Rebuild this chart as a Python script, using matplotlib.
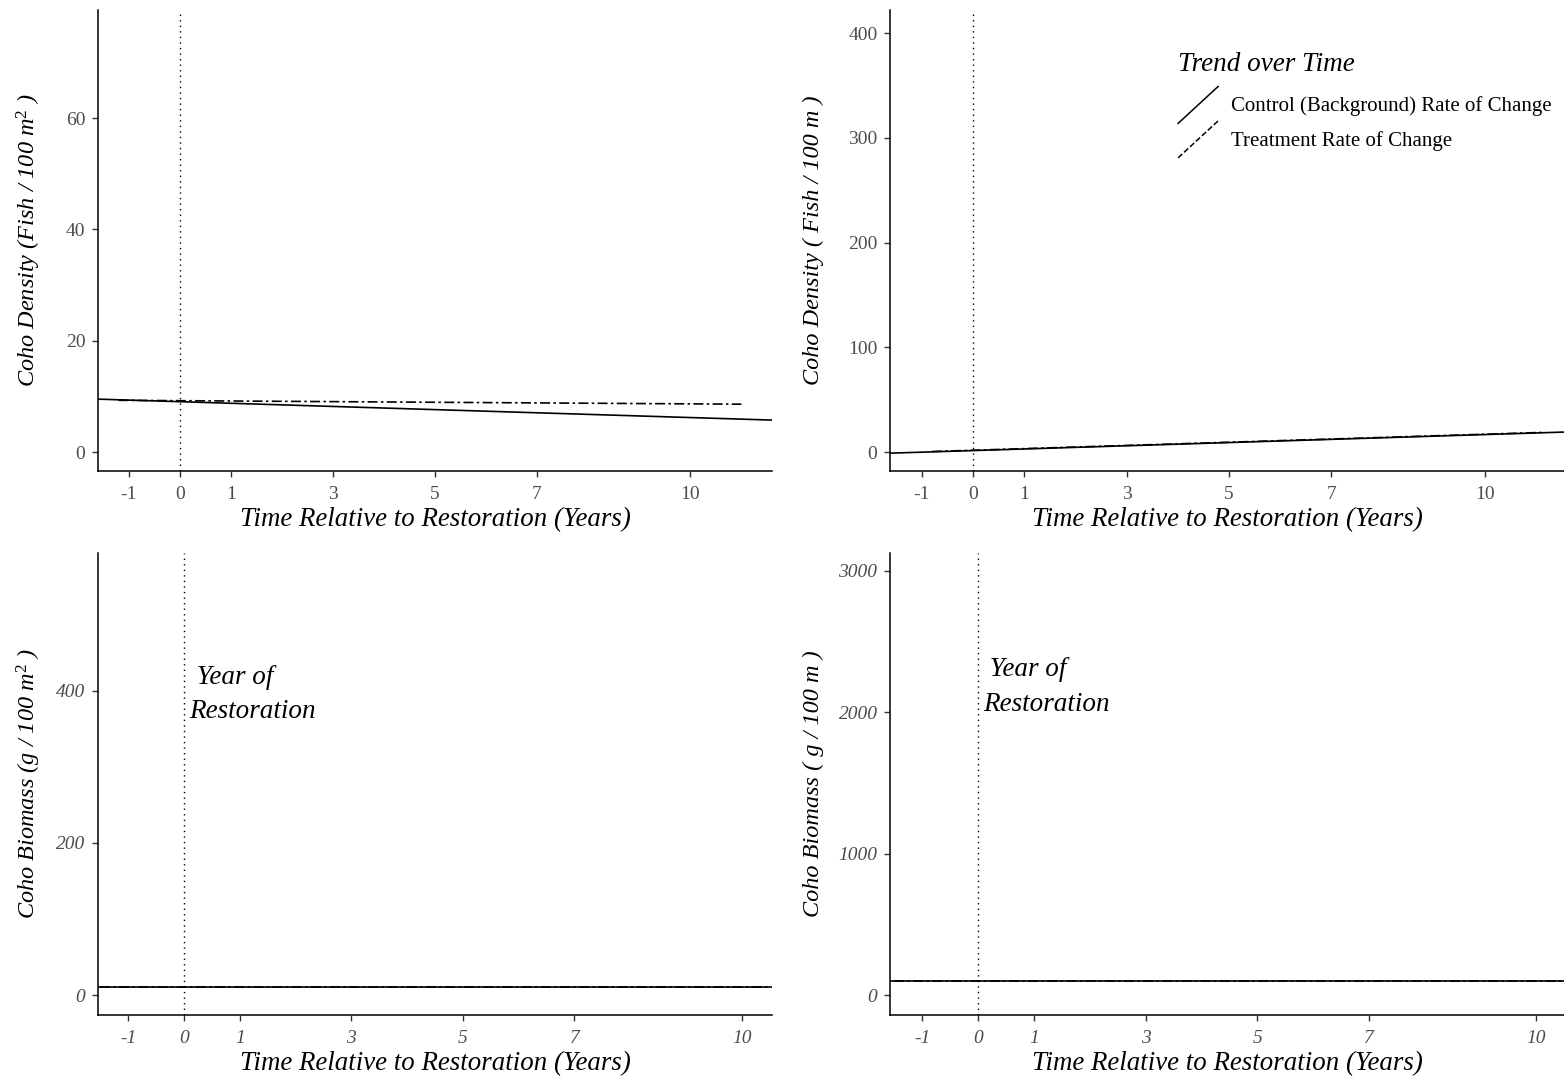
import matplotlib
matplotlib.use("Agg")
import matplotlib.pyplot as plt
from matplotlib.lines import Line2D
from matplotlib.legend_handler import HandlerBase

plt.rcParams['font.family'] = ['Liberation Serif', 'DejaVu Serif']
plt.rcParams['mathtext.fontset'] = 'custom'
plt.rcParams['mathtext.rm'] = 'Liberation Serif'
plt.rcParams['mathtext.it'] = 'Liberation Serif:italic'

# x ticks shared by all panels
year_ticks = [-1, 0, 1, 3, 5, 7, 10]

# density per area (fish / 100 m^2)
dens_area_ctrl = (9.05, -0.285)          # intercept, slope
dens_area_trt_x = [-1.2, 11.0]
dens_area_trt_y = [9.3, 8.6]

# density per length (fish / 100 m)
dens_len_ctrl = (1.5, 1.53)
dens_len_trt_x = [-0.8, 11.1]
dens_len_trt_y = [0.6, 18.8]

# biomass per area (g / 100 m^2)
bio_area_ctrl = (10.5, 0.0)
bio_area_trt_x = [-1.5, 10.5]
bio_area_trt_y = [10.5, 10.5]

# biomass per length (g / 100 m)
bio_len_ctrl = (99.0, 0.0)
bio_len_trt_x = [-1.5, 10.5]
bio_len_trt_y = [99.0, 99.0]

TREAT_LS = (0, (6, 2, 1.5, 2))


class DiagonalHandler(HandlerBase):
    # legend key drawn as a rising diagonal, like an abline key
    def create_artists(self, legend, orig_handle, xdescent, ydescent,
                       width, height, fontsize, trans):
        ln = Line2D([-xdescent, -xdescent + width],
                    [-ydescent, -ydescent + height],
                    color=orig_handle.get_color(),
                    linestyle=orig_handle.get_linestyle(),
                    linewidth=orig_handle.get_linewidth(),
                    transform=trans)
        return [ln]


fig = plt.figure(figsize=(15.64, 10.76), dpi=100)

W, H = 1564, 1076
def px_axes(l, t, r, b):
    return fig.add_axes([l / W, 1 - b / H, (r - l) / W, (b - t) / H])

ax1 = px_axes(98, 10, 772, 471)
ax2 = px_axes(890, 10, 1564, 471)
ax3 = px_axes(98, 553, 772, 1015)
ax4 = px_axes(890, 553, 1564, 1015)

panels = [
    (ax1, dens_area_ctrl, dens_area_trt_x, dens_area_trt_y, (-1.6, 11.6), (-3.4, 79.4),
     [0, 20, 40, 60], 'Coho Density (Fish / 100 m$^{2}$ )', False, -0.082),
    (ax2, dens_len_ctrl, dens_len_trt_x, dens_len_trt_y, (-1.62, 11.54), (-18, 422),
     [0, 100, 200, 300, 400], 'Coho Density ( Fish / 100 m )', False, -0.098),
    (ax3, bio_area_ctrl, bio_area_trt_x, bio_area_trt_y, (-1.54, 10.54), (-26, 581),
     [0, 200, 400], 'Coho Biomass (g / 100 m$^{2}$ )', True, -0.082),
    (ax4, bio_len_ctrl, bio_len_trt_x, bio_len_trt_y, (-1.58, 10.5), (-141, 3127),
     [0, 1000, 2000, 3000], 'Coho Biomass ( g / 100 m )', True, -0.098),
]

for ax, ctrl, tx, ty, xl, yl, yt, ylab, ital, ylab_x in panels:
    ax.set_xlim(*xl)
    ax.set_ylim(*yl)
    ax.axline((0, ctrl[0]), slope=ctrl[1], color='black', lw=1.2)
    ax.plot(tx, ty, color='black', lw=1.2, linestyle=TREAT_LS)
    ax.axvline(0, color='black', lw=1.0, linestyle=(0, (1, 3)))
    ax.set_xticks(year_ticks)
    ax.set_yticks(yt)
    style = 'italic' if ital else 'normal'
    ax.set_xticklabels([str(v) for v in year_ticks], fontstyle=style)
    ax.set_yticklabels([str(v) for v in yt], fontstyle=style)
    ax.tick_params(labelcolor='#4d4d4d', color='#333333', labelsize=14,
                   length=4, width=1)
    ax.tick_params(axis='x', pad=7)
    ax.tick_params(axis='y', pad=5)
    for s in ['top', 'right']:
        ax.spines[s].set_visible(False)
    for s in ['left', 'bottom']:
        ax.spines[s].set_linewidth(1.1)
        ax.spines[s].set_color('black')
    ax.set_xlabel('Time Relative to Restoration (Years)', fontsize=19.4,
                  fontstyle='italic', labelpad=3)
    ax.set_ylabel(ylab, fontsize=17.5, fontstyle='italic')
    ax.yaxis.set_label_coords(ylab_x, 0.5)

# restoration-year notes on the biomass panels
ax3.text(0.1, 395, ' Year of\nRestoration', fontsize=19.5, fontstyle='italic',
         ha='left', va='center', linespacing=1.5)
ax4.text(0.09, 2180, ' Year of\nRestoration', fontsize=19.5, fontstyle='italic',
         ha='left', va='center', linespacing=1.5)

handles = [Line2D([], [], color='black', lw=1.1, linestyle='-'),
           Line2D([], [], color='black', lw=1.1, linestyle=(0, (2, 2)))]
leg = ax2.legend(handles, ['Control (Background) Rate of Change', 'Treatment Rate of Change'],
                 title='Trend over Time', loc='upper left', bbox_to_anchor=(0.412, 0.932),
                 frameon=False, fontsize=15, handlelength=1.92, handleheight=2.35,
                 handletextpad=0.62, labelspacing=-0.12, borderpad=0,
                 handler_map={Line2D: DiagonalHandler()})
leg.get_title().set_fontsize(19.5)
leg.get_title().set_fontstyle('italic')
leg._legend_box.align = 'left'
leg._legend_box.sep = 7

fig.savefig('out.png', dpi=100)
